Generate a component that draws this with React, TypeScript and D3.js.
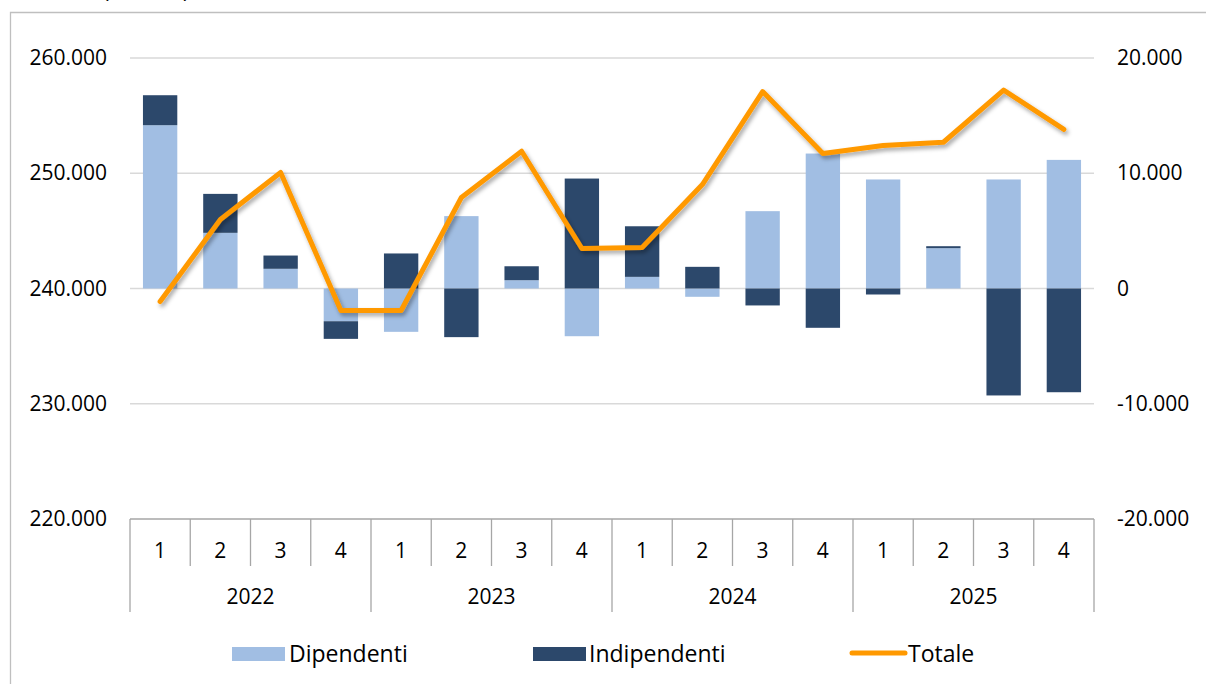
import * as d3 from 'd3';
import React, { useEffect, useRef } from 'react';

// trimestri e anni
const quarters = ['1', '2', '3', '4', '1', '2', '3', '4', '1', '2', '3', '4', '1', '2', '3', '4'];
const years = ['2022', '2023', '2024', '2025'];

// variazioni (migliaia), asse destro
const dipendenti = [14.17, 4.83, 1.71, -2.84, -3.76, 6.28, 0.72, -4.14, 1.01, -0.72, 6.71, 11.71, 9.46, 3.5, 9.46, 11.16];
const indipendenti = [2.6, 3.38, 1.15, -1.53, 3.04, -4.22, 1.21, 9.54, 4.39, 1.88, -1.47, -3.41, -0.52, 0.17, -9.28, -9.0];
// livello totale (migliaia), asse sinistro
const totale = [238.87, 245.99, 250.07, 238.09, 238.09, 247.9, 251.91, 243.47, 243.56, 249.02, 257.09, 251.71, 252.41, 252.69, 257.21, 253.8];

const leftTicks = [220, 230, 240, 250, 260];
const rightTicks = [-20, -10, 0, 10, 20];

const W = 1206;
const H = 684;
const plot = { left: 130, right: 1094, top: 58, bottom: 519 };
const FONT = "'Open Sans', sans-serif";
const LIGHT = '#a1bee3';
const DARK = '#2c486b';
const ORANGE = '#ff9900';

const itLocale = d3.formatLocale({ decimal: ',', thousands: '.', grouping: [3], currency: ['', ''], minus: '-' });
const fmt = (d: number) => itLocale.format(',.0f')(d * 1000);

export default function App() {
  const leftRef = useRef<SVGGElement>(null);
  const rightRef = useRef<SVGGElement>(null);

  const x = d3.scaleBand<number>().domain(d3.range(quarters.length)).range([plot.left, plot.right]).padding(0);
  const yLeft = d3.scaleLinear().domain([220, 260]).range([plot.bottom, plot.top]);
  const yRight = d3.scaleLinear().domain([-20, 20]).range([plot.bottom, plot.top]);
  const barW = x.bandwidth() * 0.57;

  const rows = quarters.map((q, i) => ({ i, dip: dipendenti[i], ind: indipendenti[i] }));
  const stacked = d3.stack<any>().keys(['dip', 'ind']).offset(d3.stackOffsetDiverging)(rows);
  const colors = [LIGHT, DARK];

  const line = d3.line<number>()
    .x((d, i) => (x(i) as number) + x.bandwidth() / 2)
    .y(d => yLeft(d));

  useEffect(() => {
    const la = d3.select(leftRef.current);
    la.selectAll('*').remove();
    la.call(d3.axisLeft(yLeft).tickValues(leftTicks).tickSize(0).tickPadding(23).tickFormat(d => fmt(+d)));
    la.select('.domain').remove();
    la.selectAll('text').attr('font-family', FONT).attr('font-size', 21).attr('fill', '#000');

    const ra = d3.select(rightRef.current);
    ra.selectAll('*').remove();
    ra.call(d3.axisRight(yRight).tickValues(rightTicks).tickSize(0).tickPadding(23).tickFormat(d => fmt(+d)));
    ra.select('.domain').remove();
    ra.selectAll('text').attr('font-family', FONT).attr('font-size', 21).attr('fill', '#000');
  }, []);

  const step = x.step();

  return (
    <svg width={W} height={H} style={{ position: 'absolute', left: 0, top: 0 }} fontFamily={FONT}>
      <defs>
        <filter id="shadow" x="-10%" y="-10%" width="120%" height="130%">
          <feDropShadow dx="2" dy="3" stdDeviation="2" floodColor="#000" floodOpacity="0.35" />
        </filter>
      </defs>
      <rect x={0} y={0} width={W} height={H} fill="#fff" />
      <text x={103} y={-2} fontSize={21} fill="#000">(in unità)</text>
      <path d={`M10.5,${H} V12.5 H${W}`} fill="none" stroke="#bfbfbf" strokeWidth={1.3} />

      {/* griglia */}
      {leftTicks.filter(t => t !== 220).map(t => (
        <line key={t} x1={plot.left} x2={plot.right} y1={yLeft(t)} y2={yLeft(t)} stroke="#d9d9d9" strokeWidth={1.5} />
      ))}

      <g ref={leftRef} transform={`translate(${plot.left},0)`} />
      <g ref={rightRef} transform={`translate(${plot.right},0)`} />

      {/* barre */}
      {stacked.map((s, k) => (
        <g key={s.key} fill={colors[k]}>
          {s.map((d, i) => {
            const y0 = yRight(d[0]);
            const y1 = yRight(d[1]);
            return (
              <rect key={i} x={(x(i) as number) + (x.bandwidth() - barW) / 2} width={barW}
                y={Math.min(y0, y1)} height={Math.abs(y0 - y1)} />
            );
          })}
        </g>
      ))}

      {/* linea totale */}
      <path d={line(totale) || ''} fill="none" stroke={ORANGE} strokeWidth={5} strokeLinejoin="round" strokeLinecap="round" filter="url(#shadow)" />

      {/* asse x a due livelli */}
      <g stroke="#a6a6a6" strokeWidth={1.3} fill="none">
        <line x1={plot.left} x2={plot.right} y1={plot.bottom} y2={plot.bottom} />
        {d3.range(quarters.length + 1).map(i => {
          const xx = plot.left + i * step;
          const isYear = i % 4 === 0;
          return <line key={i} x1={xx} x2={xx} y1={plot.bottom} y2={isYear ? 612 : 566} />;
        })}
      </g>
      {quarters.map((q, i) => (
        <text key={i} x={(x(i) as number) + x.bandwidth() / 2} y={551} dy="0.35em" textAnchor="middle" fontSize={21} fill="#000">{q}</text>
      ))}
      {years.map((yr, j) => (
        <text key={yr} x={plot.left + (j * 4 + 2) * step} y={597} dy="0.35em" textAnchor="middle" fontSize={21} fill="#000">{yr}</text>
      ))}

      {/* legenda */}
      <g fontSize={23} fill="#000">
        <rect x={232} y={647} width={53} height={14} fill={LIGHT} />
        <text x={289} y={654} dy="0.35em">Dipendenti</text>
        <rect x={533} y={647} width={53} height={14} fill={DARK} />
        <text x={589} y={654} dy="0.35em">Indipendenti</text>
        <line x1={852} x2={905} y1={653} y2={653} stroke={ORANGE} strokeWidth={5} strokeLinecap="round" />
        <text x={908} y={654} dy="0.35em">Totale</text>
      </g>
    </svg>
  );
}
